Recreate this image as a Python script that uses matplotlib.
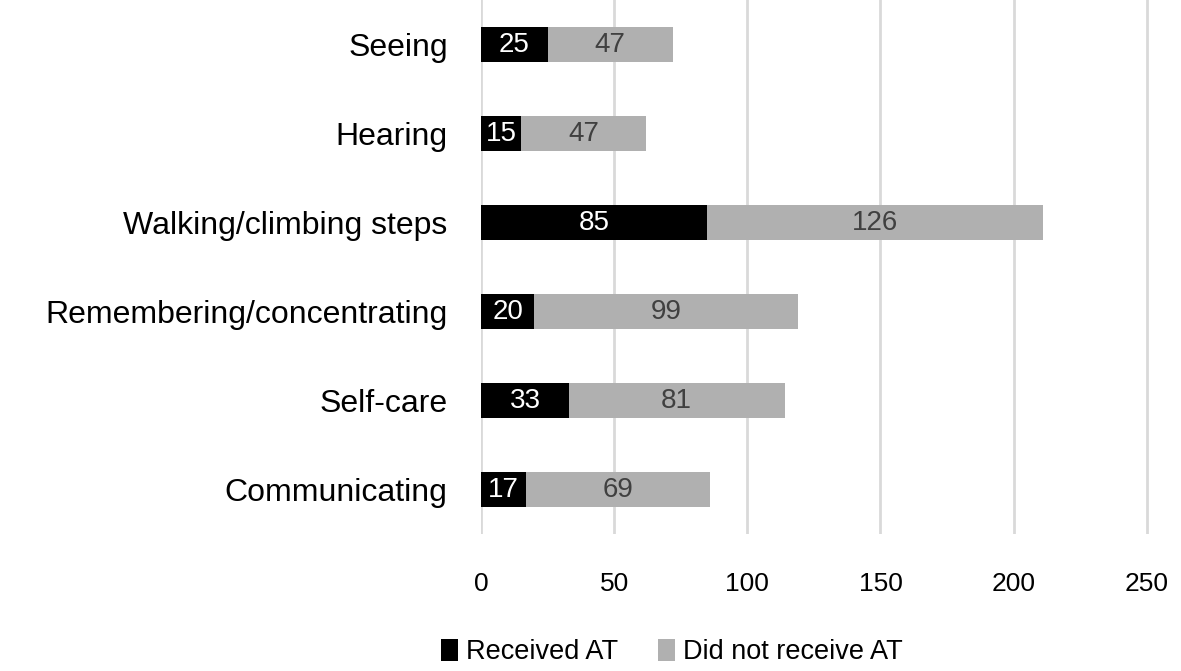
import numpy as np
import matplotlib.pyplot as plt

plt.rcParams['font.family'] = ['Liberation Sans', 'DejaVu Sans']

categories = ["Seeing", "Hearing", "Walking/climbing steps",
              "Remembering/concentrating", "Self-care", "Communicating"]
received = [25, 15, 85, 20, 33, 17]
not_received = [47, 47, 126, 99, 81, 69]

fig = plt.figure(figsize=(11.81, 6.71), dpi=100)
ax = fig.add_axes([0.4073, 0.204, 0.5682, 0.796])

y = np.arange(len(categories))
b1 = ax.barh(y, received, height=0.4, color='black', label='Received AT', zorder=3)
b2 = ax.barh(y, not_received, left=received, height=0.4, color='#b0b0b0',
             label='Did not receive AT', zorder=3)

# value labels inside each segment
for i in range(len(categories)):
    ax.text(received[i] / 2, y[i], str(received[i]), ha='center', va='center',
            color='white', fontsize=20, zorder=4)
    ax.text(received[i] + not_received[i] / 2, y[i], str(not_received[i]),
            ha='center', va='center', color='#404040', fontsize=20, zorder=4)

ax.set_ylim(5.5, -0.5)
ax.set_xlim(0, 252)
ax.set_xticks([0, 50, 100, 150, 200, 250])
ax.set_yticks(y)
ax.set_yticklabels(categories, fontsize=23)
ax.tick_params(axis='x', labelsize=19, length=0, pad=27)
ax.tick_params(axis='y', length=0, pad=24)
ax.xaxis.grid(True, color='#d9d9d9', linewidth=2, zorder=0)
for s in ax.spines.values():
    s.set_visible(False)

fig.legend(handles=[b1, b2], loc='lower center', bbox_to_anchor=(0.569, -0.028),
           ncol=2, frameon=False, fontsize=19.5, handlelength=0.6, handleheight=0.9,
           handletextpad=0.3, columnspacing=1.5)

fig.savefig('out.png', dpi=100)
